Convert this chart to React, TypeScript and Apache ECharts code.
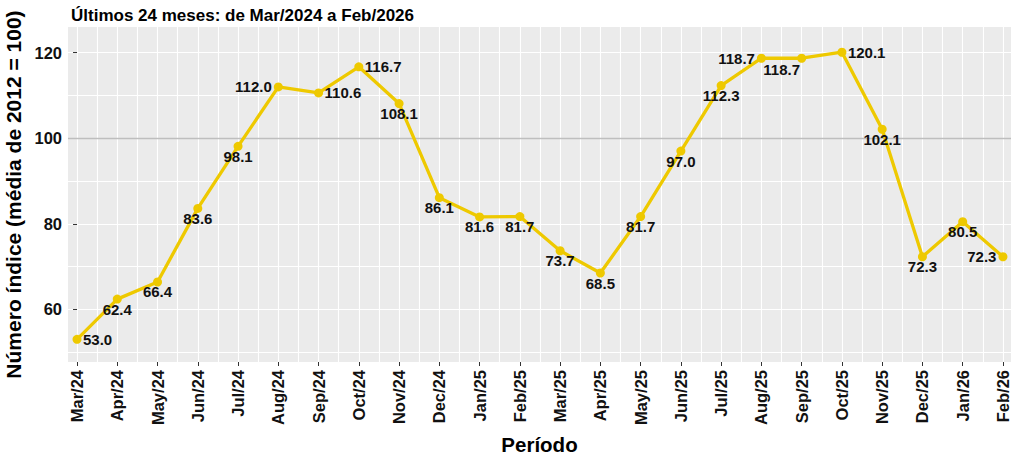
import React, { useEffect, useRef } from "react";
import * as echarts from "echarts";

const months = [
  "Mar/24", "Apr/24", "May/24", "Jun/24", "Jul/24", "Aug/24", "Sep/24", "Oct/24",
  "Nov/24", "Dec/24", "Jan/25", "Feb/25", "Mar/25", "Apr/25", "May/25", "Jun/25",
  "Jul/25", "Aug/25", "Sep/25", "Oct/25", "Nov/25", "Dec/25", "Jan/26", "Feb/26",
];
const values = [
  53.0, 62.4, 66.4, 83.6, 98.1, 112.0, 110.6, 116.7,
  108.1, 86.1, 81.6, 81.7, 73.7, 68.5, 81.7, 97.0,
  112.3, 118.7, 118.7, 120.1, 102.1, 72.3, 80.5, 72.3,
];
const yTickValues = [60, 80, 100, 120];
const yGridValues = [50, 60, 70, 80, 90, 100, 110, 120];
const referenceValue = 100;
const titleText = "Últimos 24 meses: de Mar/2024 a Feb/2026";
const yName = "Número índice (média de 2012 = 100)";
const xName = "Período";

// label placement per point: r = right, l = left, b = below
const labelSide = [
  "r", "b", "b", "b", "b", "l", "r", "r",
  "b", "b", "b", "b", "b", "b", "b", "b",
  "b", "l", "b2", "r", "b", "b", "b", "l",
];

const FONT = "'Liberation Sans', Arial, Helvetica, sans-serif";
const LINE = "#EEC900";

export default function App() {
  const ref = useRef<HTMLDivElement>(null);
  useEffect(() => {
    if (!ref.current) return;
    const chart = echarts.init(ref.current, null, { renderer: "svg" });
    const xIdx = months.map((_, i) => i);
    const xHalf: number[] = [];
    for (let i = 0; i < months.length * 2 - 1; i++) xHalf.push(i / 2);
    const xMin = -0.224;
    const xMax = 23.2;
    const yMin = 47.7;
    const yMax = 126.0;

    const labelFor = (s: string) => {
      const base = {
        show: true,
        fontFamily: FONT,
        fontWeight: "bold" as const,
        fontSize: 15,
        color: "#111",
        formatter: (p: any) => Number(p.value[1]).toFixed(1),
      };
      if (s === "r") return { ...base, position: "right" as const, distance: 1.5 };
      if (s === "l") return { ...base, position: "left" as const, distance: 2 };
      if (s === "b2") return { ...base, position: "inside" as const, offset: [-20, 11] };
      return { ...base, position: "inside" as const, offset: [0, 10] };
    };

    const data = values.map((v, i) => ({
      value: [i, v],
      label: labelFor(labelSide[i]),
    }));

    chart.setOption({
      animation: false,
      title: {
        text: titleText,
        left: 66,
        top: 2,
        textStyle: { fontFamily: FONT, fontWeight: "bold", fontSize: 17, color: "#000" },
      },
      grid: {
        left: 68,
        right: 0,
        top: 27,
        bottom: 94,
        show: true,
        backgroundColor: "#EBEBEB",
        borderWidth: 0,
        containLabel: false,
        outerBoundsMode: "none",
      },
      xAxis: [
        {
          type: "value",
          min: xMin,
          max: xMax,
          position: "bottom",
          name: xName,
          nameLocation: "middle",
          nameGap: 72,
          nameTextStyle: { fontFamily: FONT, fontWeight: "bold", fontSize: 20.5, color: "#000" },
          axisLine: { show: false },
          axisTick: { show: true, length: 4, customValues: xIdx, lineStyle: { color: "#333", width: 1 } },
          axisLabel: {
            show: true,
            customValues: xIdx,
            rotate: 90,
            margin: 8,
            fontFamily: FONT,
            fontWeight: "bold",
            fontSize: 16.5,
            color: "#111",
            formatter: (v: number) => months[Math.round(v)] ?? "",
          },
          splitLine: { show: false },
        },
        {
          type: "value",
          min: xMin,
          max: xMax,
          position: "bottom",
          axisLine: { show: false },
          axisTick: { show: false, customValues: xHalf },
          axisLabel: { show: false, customValues: xHalf },
          splitLine: { show: true, lineStyle: { color: "#FFFFFF", width: 1.1 } },
        },
      ],
      yAxis: [
        {
          type: "value",
          min: yMin,
          max: yMax,
          position: "left",
          name: yName,
          nameLocation: "middle",
          nameGap: 40,
          nameTextStyle: { fontFamily: FONT, fontWeight: "bold", fontSize: 21, color: "#000" },
          axisLine: { show: false },
          axisTick: { show: true, length: 4, customValues: yTickValues, lineStyle: { color: "#333", width: 1 } },
          axisLabel: {
            show: true,
            customValues: yTickValues,
            margin: 6,
            fontFamily: FONT,
            fontWeight: "bold",
            fontSize: 16.5,
            color: "#111",
          },
          splitLine: { show: false },
        },
        {
          type: "value",
          min: yMin,
          max: yMax,
          position: "left",
          axisLine: { show: false },
          axisTick: { show: false, customValues: yGridValues },
          axisLabel: { show: false, customValues: yGridValues },
          splitLine: { show: true, lineStyle: { color: "#FFFFFF", width: 1.1 } },
        },
      ],
      series: [
        {
          type: "line",
          xAxisIndex: 0,
          yAxisIndex: 0,
          data,
          symbol: "circle",
          symbolSize: 9,
          lineStyle: { color: LINE, width: 3.3 },
          itemStyle: { color: LINE },
          z: 5,
          markLine: {
            silent: true,
            symbol: ["none", "none"],
            label: { show: false },
            lineStyle: { color: "#BEBEBE", width: 1.4, type: "solid" },
            data: [{ yAxis: referenceValue }],
            z: 3,
          },
        },
      ],
    });
    return () => chart.dispose();
  }, []);
  return (
    <div
      ref={ref}
      style={{ position: "fixed", left: 0, top: 0, width: 1011, height: 456, background: "#fff" }}
    />
  );
}
